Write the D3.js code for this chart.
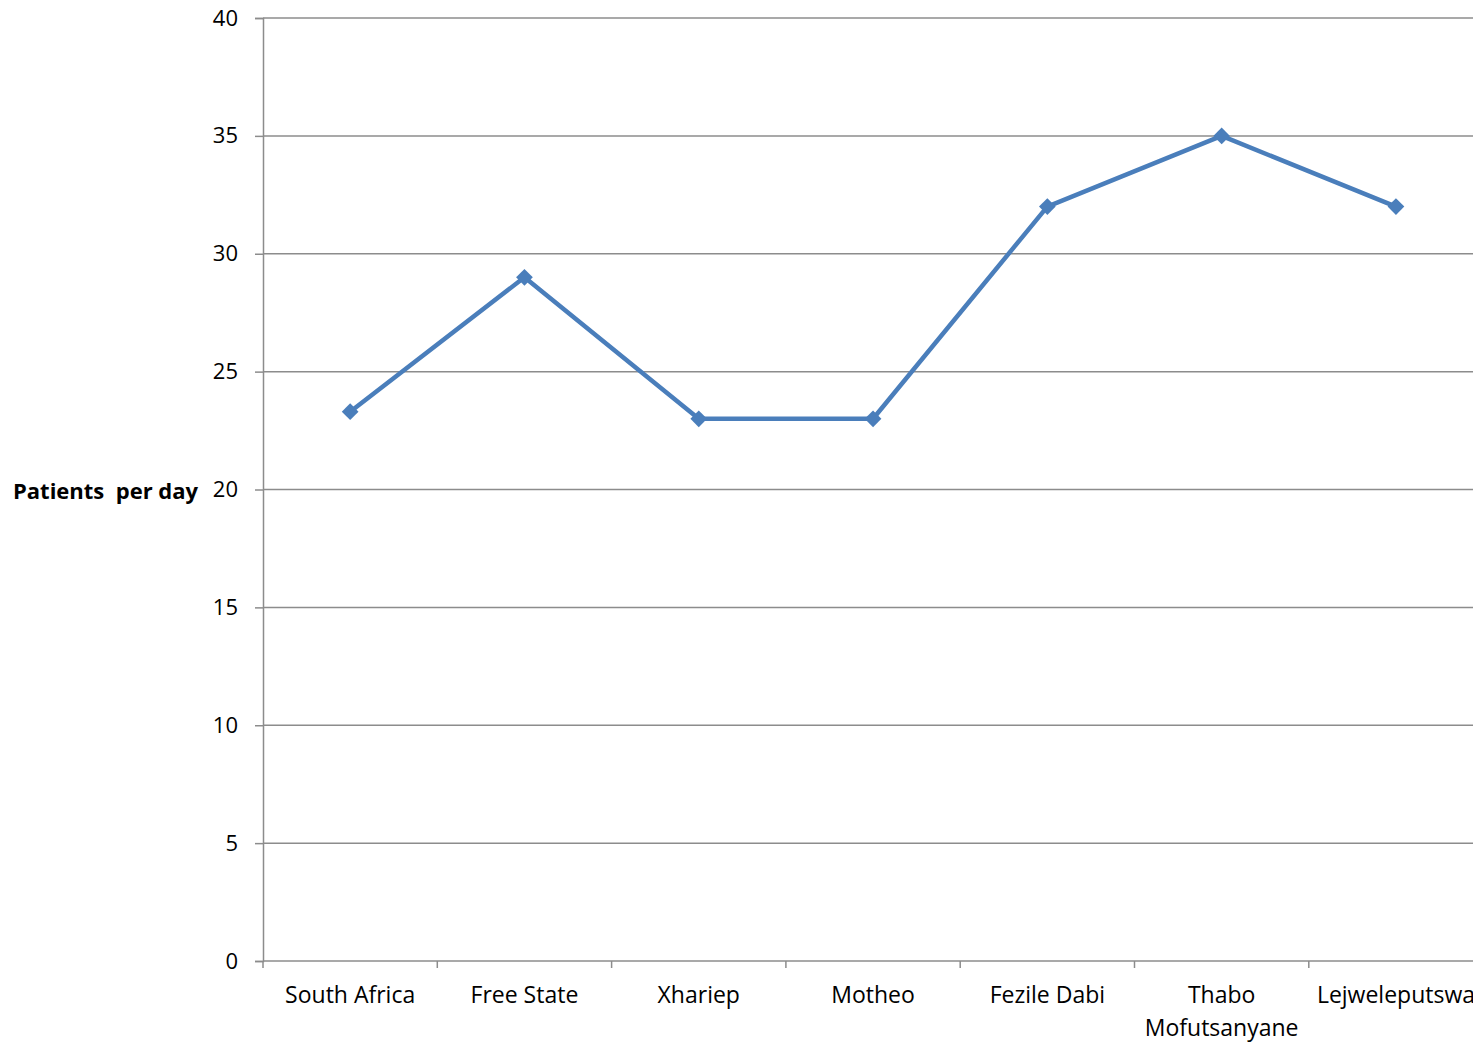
<!DOCTYPE html>
<html>
<head>
<meta charset="utf-8">
<script src="https://cdn.jsdelivr.net/npm/d3@7"></script>
<style>
  html, body { margin: 0; padding: 0; background: #fff; overflow: hidden; }
  svg { display: block; font-family: "Open Sans", Lato, sans-serif; }
</style>
</head>
<body>
<svg id="chart" width="1473" height="1042"></svg>
<script>
// Average patients seen per day, by district
const categories = ["South Africa", "Free State", "Xhariep", "Motheo", "Fezile Dabi", "Thabo Mofutsanyane", "Lejweleputswa"];
const values = [23.3, 29, 23, 23, 32, 35, 32];
const yTicks = [0, 5, 10, 15, 20, 25, 30, 35, 40];
const yTitle = "Patients  per day";

(function () {
  const svg = d3.select("#chart");
  const plotLeft = 263, plotTop = 18, plotBottom = 961;
  const band = 174.3;
  const plotRight = plotLeft + band * categories.length;
  const fontFamily = "'Open Sans', Lato, sans-serif";

  const x = d3.scaleBand().domain(categories).range([plotLeft, plotRight]).paddingInner(0).paddingOuter(0);
  const y = d3.scaleLinear().domain([0, 40]).range([plotBottom, plotTop]);

  const gridColor = "#8c8c8c";

  // horizontal gridlines
  svg.append("g").selectAll("line").data(yTicks.filter(d => d > 0)).join("line")
    .attr("x1", plotLeft).attr("x2", plotRight)
    .attr("y1", d => y(d)).attr("y2", d => y(d))
    .attr("stroke", gridColor).attr("stroke-width", 1.5);

  // y axis
  const yAxis = svg.append("g").attr("transform", `translate(${plotLeft},0)`)
    .call(d3.axisLeft(y).tickValues(yTicks).tickSize(8).tickPadding(17));
  yAxis.select(".domain").attr("stroke", gridColor).attr("stroke-width", 1.5);
  yAxis.selectAll(".tick line").attr("stroke", gridColor).attr("stroke-width", 1.5);
  yAxis.selectAll(".tick text").attr("font-size", 22).attr("fill", "#000")
    .attr("font-family", fontFamily);

  // x axis with tick marks at category boundaries
  const xAxisG = svg.append("g").attr("transform", `translate(0,${plotBottom})`);
  xAxisG.append("line").attr("x1", plotLeft).attr("x2", plotRight).attr("y1", 0).attr("y2", 0)
    .attr("stroke", gridColor).attr("stroke-width", 1.5);
  const boundaries = categories.map(c => x(c)).concat([plotRight]);
  xAxisG.selectAll("line.tk").data(boundaries).join("line").attr("class", "tk")
    .attr("x1", d => d).attr("x2", d => d).attr("y1", 0).attr("y2", 7)
    .attr("stroke", gridColor).attr("stroke-width", 1.5);

  // category labels, wrapped when long
  const labels = xAxisG.selectAll("text.cat").data(categories).join("text").attr("class", "cat")
    .attr("x", d => x(d) + x.bandwidth() / 2)
    .attr("y", 42)
    .attr("text-anchor", "middle")
    .attr("font-size", 23)
    .attr("fill", "#000");
  labels.each(function (d) {
    const t = d3.select(this);
    const parts = d === "Thabo Mofutsanyane" ? ["Thabo", "Mofutsanyane"] : [d];
    parts.forEach((p, i) => {
      t.append("tspan").attr("x", x(d) + x.bandwidth() / 2).attr("dy", i === 0 ? 0 : 33).text(p);
    });
  });

  // y axis title
  svg.append("text")
    .attr("x", 13).attr("y", 499)
    .attr("font-size", 22).attr("font-weight", "bold")
    .attr("fill", "#000")
    .style("white-space", "pre")
    .text(yTitle);

  // series line
  const lineColor = "#4a7ebb";
  const line = d3.line()
    .x((d, i) => x(categories[i]) + x.bandwidth() / 2)
    .y(d => y(d));
  svg.append("path").datum(values)
    .attr("d", line)
    .attr("fill", "none")
    .attr("stroke", lineColor)
    .attr("stroke-width", 4.5)
    .attr("stroke-linejoin", "round");

  // diamond markers
  const diamond = d3.symbol().type(d3.symbolSquare).size(140);
  svg.append("g").selectAll("path").data(values).join("path")
    .attr("d", diamond)
    .attr("transform", (d, i) => `translate(${x(categories[i]) + x.bandwidth() / 2},${y(d)}) rotate(45)`)
    .attr("fill", lineColor);
})();
</script>
</body>
</html>
